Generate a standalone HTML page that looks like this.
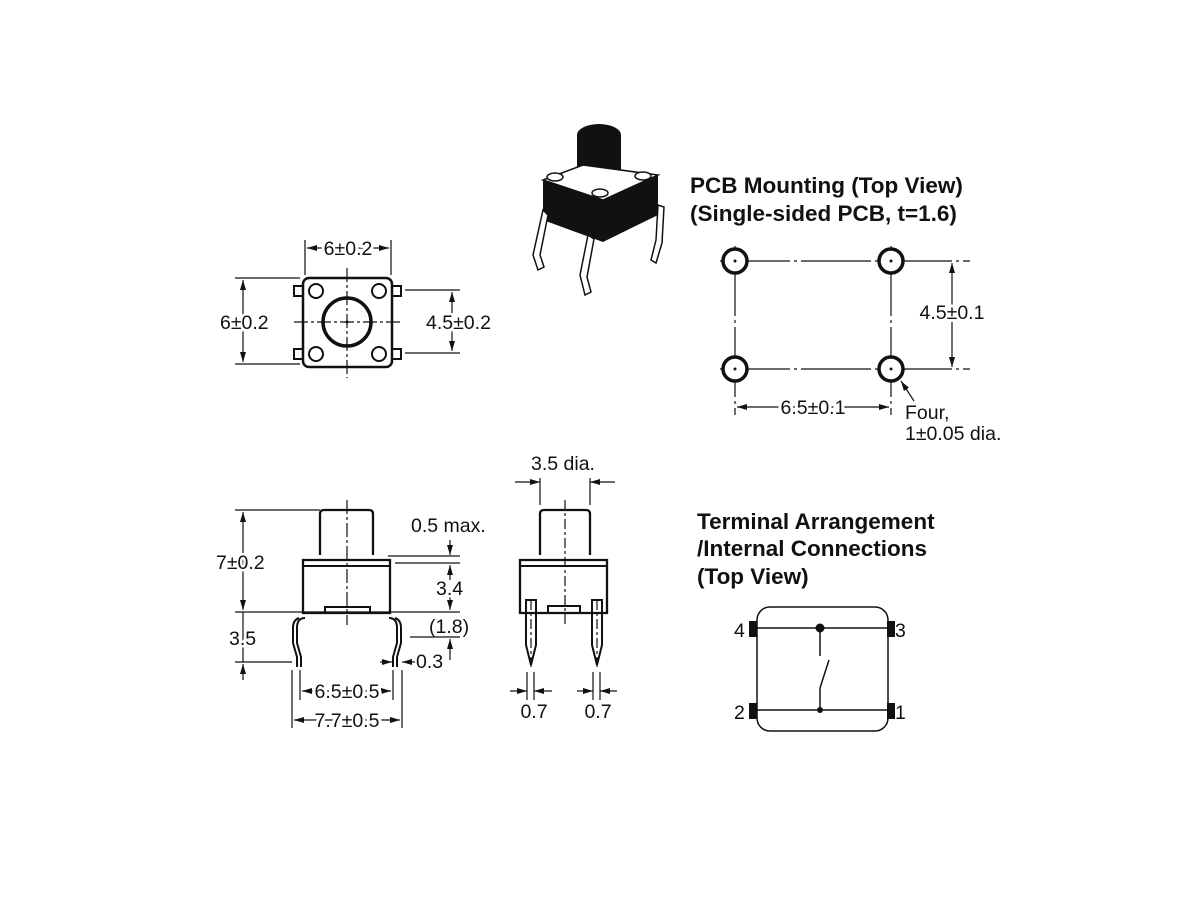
<!DOCTYPE html>
<html><head><style>body{margin:0;background:#fff}svg{display:block}</style></head><body>
<svg width="1200" height="900" viewBox="0 0 1200 900" xmlns="http://www.w3.org/2000/svg" font-family="Liberation Sans, sans-serif">
<defs>
<marker id="a" viewBox="0 0 10 6" refX="10" refY="3" markerWidth="10" markerHeight="6" orient="auto" markerUnits="userSpaceOnUse"><path d="M0,0L10,3L0,6z" fill="#111"/></marker>
</defs>
<rect width="1200" height="900" fill="#fff"/>
<g stroke="#111" fill="none" stroke-width="1.2">
<!-- top view -->
<rect x="303" y="278" width="89" height="89" rx="6" stroke-width="2.5"/>
<circle cx="347" cy="322" r="24" stroke-width="3.5"/>
<circle cx="316" cy="291" r="7" stroke-width="2"/><circle cx="379" cy="291" r="7" stroke-width="2"/>
<circle cx="316" cy="354" r="7" stroke-width="2"/><circle cx="379" cy="354" r="7" stroke-width="2"/>
<rect x="294" y="286" width="9" height="10" stroke-width="2"/><rect x="392" y="286" width="9" height="10" stroke-width="2"/>
<rect x="294" y="349" width="9" height="10" stroke-width="2"/><rect x="392" y="349" width="9" height="10" stroke-width="2"/>
<path d="M347 268V378M294 322H401" stroke-dasharray="14 3 3 3"/>
<path d="M305 240V275M391 240V275M235 278H300M235 364H300M405 290H460M405 353H460"/>
<g marker-end="url(#a)">
<path d="M347 248H307"/><path d="M347 248H389"/><path d="M243 321V280"/><path d="M243 321V362"/><path d="M452 321V292"/><path d="M452 321V351"/>
<path d="M243 561V512"/><path d="M243 561V610"/><path d="M243 680V664"/><path d="M450 540V555"/><path d="M450 580V565"/><path d="M450 590V610"/><path d="M450 660V639"/><path d="M380 662H392"/><path d="M415 662H402"/>
<path d="M347 691H302"/><path d="M347 691H391"/><path d="M347 720H294"/><path d="M347 720H400"/>
<path d="M515 482H540"/><path d="M615 482H590"/><path d="M510 691H527"/><path d="M552 691H534"/><path d="M577 691H593"/><path d="M617 691H600"/>
<path d="M952 315V263"/><path d="M952 315V367"/><path d="M813 407H737"/><path d="M813 407H889"/><path d="M914 401L901 381"/>
</g>
<!-- side view -->
<path d="M320 555V514q0-4 4-4h45q4 0 4 4v41" stroke-width="2.3"/>
<path d="M303 613V560h87v53z" stroke-width="2.3"/>
<path d="M303 566H390M325 613v-6h45v6" stroke-width="2"/>
<path d="M305 618q-8 0-8 10v15l4 14v10M299 618q-6 2-6 10v15l4 14v10" stroke-width="2"/>
<path d="M389 618q8 0 8 10v15l-4 14v10M395 618q6 2 6 10v15l-4 14v10" stroke-width="2"/>
<path d="M347 500V625" stroke-dasharray="14 3 3 3"/>
<path d="M235 510H320M235 612H460M235 662H292M243 612V662M388 556H460M395 563H460M410 637H460M292 670V728M402 670V728M300 670V700M393 670V700" />
<!-- front view -->
<path d="M540 555V514q0-4 4-4h42q4 0 4 4v41" stroke-width="2.3"/>
<path d="M520 613V560h87v53z" stroke-width="2.3"/>
<path d="M520 566H607M548 613v-7h32v7" stroke-width="2"/>
<path d="M526 600h10v45l-5 20l-5-20zM592 600h10v45l-5 20l-5-20z" stroke-width="2"/>
<path d="M565 500V625M531 600V670M597 600V670" stroke-dasharray="10 3 3 3"/>
<path d="M540 478V505M590 478V505M527 672V700M534 672V700M593 672V700M600 672V700"/>
<!-- PCB -->
<path d="M720 261H970M720 369H970M735 246V415M891 246V415" stroke-dasharray="70 4 3 4"/>
<g stroke-width="3.5"><circle cx="735" cy="261" r="12" fill="#fff"/><circle cx="891" cy="261" r="12" fill="#fff"/><circle cx="735" cy="369" r="12" fill="#fff"/><circle cx="891" cy="369" r="12" fill="#fff"/></g>
<!-- terminal -->
<rect x="757" y="607" width="131" height="124" rx="13" stroke-width="1.5"/>
<path d="M757 628H888M757 710H888M820 628V656M820 688L829 660M820 688V710" stroke-width="1.5"/>
</g>
<g fill="#111">
<circle cx="347" cy="322" r="1.5"/><circle cx="735" cy="261" r="1.5"/><circle cx="891" cy="261" r="1.5"/><circle cx="735" cy="369" r="1.5"/><circle cx="891" cy="369" r="1.5"/>
<circle cx="820" cy="628" r="4.5"/><circle cx="820" cy="710" r="3"/>
<rect x="749" y="621" width="8" height="16"/><rect x="887" y="621" width="8" height="16"/><rect x="749" y="703" width="8" height="16"/><rect x="887" y="703" width="8" height="16"/>
<!-- iso drawing -->
<path d="M577 135v50q22 10 44 0v-50z"/><ellipse cx="599" cy="135" rx="22" ry="11"/>
<path d="M543 180l40 -15 l75 10 l-55 25z" fill="#fff" stroke="#111" stroke-width="1.5"/>
<path d="M543 180v40l60 22v-42zM603 200l55-25v40l-55 27z"/>
<ellipse cx="555" cy="177" rx="8" ry="4" fill="#fff" stroke="#111" stroke-width="1.5"/><ellipse cx="643" cy="176" rx="8" ry="4" fill="#fff" stroke="#111" stroke-width="1.5"/><ellipse cx="600" cy="193" rx="8" ry="4" fill="#fff" stroke="#111" stroke-width="1.5"/>
<path d="M543 210l-10 45l5 15l6-3l-4-12l8-40zM588 235l-8 40l5 20l6-3l-4-15l7-38zM658 205l-2 35l-5 20l5 3l6-20l2-36z" fill="#fff" stroke="#111" stroke-width="1.5"/>
</g>
<g font-size="19.5" fill="#111">
<text x="348" y="255" text-anchor="middle" stroke="#fff" stroke-width="6" paint-order="stroke">6±0.2</text>
<text x="220" y="329" stroke="#fff" stroke-width="5" paint-order="stroke">6±0.2</text>
<text x="426" y="329" stroke="#fff" stroke-width="5" paint-order="stroke">4.5±0.2</text>
<text x="216" y="569" stroke="#fff" stroke-width="5" paint-order="stroke">7±0.2</text>
<text x="229" y="645" stroke="#fff" stroke-width="5" paint-order="stroke">3.5</text>
<text x="411" y="532">0.5 max.</text>
<text x="436" y="595" stroke="#fff" stroke-width="5" paint-order="stroke">3.4</text>
<text x="429" y="633">(1.8)</text>
<text x="416" y="668">0.3</text>
<text x="347" y="698" text-anchor="middle" stroke="#fff" stroke-width="6" paint-order="stroke">6.5±0.5</text>
<text x="347" y="727" text-anchor="middle" stroke="#fff" stroke-width="6" paint-order="stroke">7.7±0.5</text>
<text x="531" y="470">3.5 dia.</text>
<text x="534" y="718" text-anchor="middle">0.7</text>
<text x="598" y="718" text-anchor="middle">0.7</text>
<text x="952" y="319" text-anchor="middle" stroke="#fff" stroke-width="6" paint-order="stroke">4.5±0.1</text>
<text x="813" y="414" text-anchor="middle" stroke="#fff" stroke-width="6" paint-order="stroke">6.5±0.1</text>
<text x="905" y="419">Four,</text>
<text x="905" y="440">1±0.05 dia.</text>
<text x="734" y="637">4</text><text x="895" y="637">3</text><text x="734" y="719">2</text><text x="895" y="719">1</text>
</g>
<g font-size="22.5" font-weight="bold" fill="#111">
<text x="690" y="193">PCB Mounting (Top View)</text>
<text x="690" y="221">(Single-sided PCB, t=1.6)</text>
<text x="697" y="529">Terminal Arrangement</text>
<text x="697" y="556">/Internal Connections</text>
<text x="697" y="584">(Top View)</text>
</g>
</svg>
</body></html>
